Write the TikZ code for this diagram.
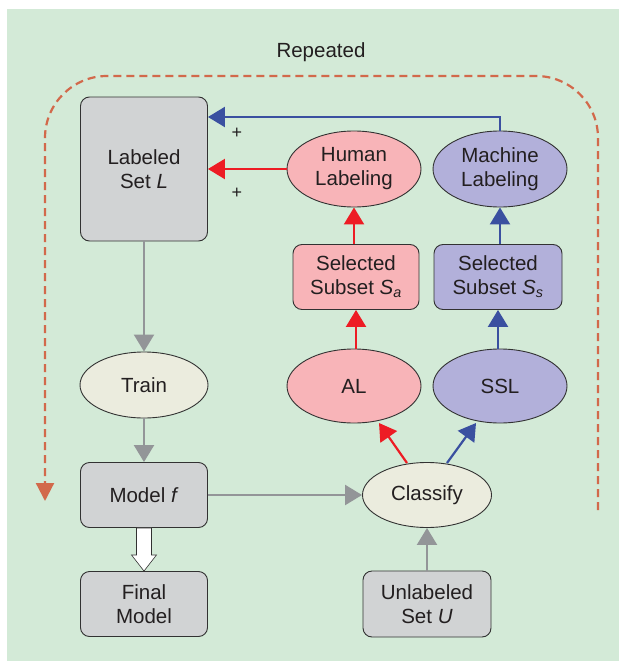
\documentclass[tikz,border=0pt]{standalone}
\usepackage{fontspec}
\setmainfont{Liberation Sans}
\usetikzlibrary{arrows.meta,shapes.geometric,calc}
\definecolor{bggreen}{RGB}{211,234,215}
\definecolor{boxgray}{RGB}{209,211,212}
\definecolor{cream}{RGB}{235,236,222}
\definecolor{pinkfill}{RGB}{248,180,184}
\definecolor{lavfill}{RGB}{178,176,218}
\definecolor{redarr}{RGB}{237,28,36}
\definecolor{bluearr}{RGB}{58,80,160}
\definecolor{grayarr}{RGB}{147,149,152}
\definecolor{dashorange}{RGB}{210,105,75}
\definecolor{txt}{RGB}{35,31,32}
\definecolor{edge}{RGB}{50,50,50}
\tikzset{
  base/.style={draw=edge, line width=0.9pt, text=txt, align=center, inner sep=0pt,
    font=\fontsize{20.5}{24}\selectfont},
  rbox/.style={base, rectangle, rounded corners=9pt, minimum width=127pt, minimum height=65pt},
  ell/.style={base, ellipse, minimum width=134pt, minimum height=76pt},
  conn/.style={line width=2.2pt, -{Triangle[length=17pt,width=20pt]}},
  redc/.style={conn, draw=redarr},
  bluec/.style={conn, draw=bluearr},
  grayc/.style={conn, draw=grayarr},
  plus/.style={text=txt, font=\fontsize{18}{20}\selectfont, inner sep=0pt}
}
\begin{document}
\begin{tikzpicture}[x=1pt,y=-1pt]
\useasboundingbox (0,0) rectangle (619,661);
\fill[white] (0,0) rectangle (619,661);
\fill[bggreen] (7,9) rectangle (619,661);

\node[text=txt, font=\fontsize{20.5}{24}\selectfont] (rep) at (321,52) {Repeated};

% nodes
\node[rbox, fill=boxgray, minimum height=144pt] (L) at (144,169) {Labeled\\Set \textit{L}};
\node[ell, fill=cream, minimum width=128pt, minimum height=66pt] (train) at (144,385) {Train};
\node[rbox, fill=boxgray] (model) at (144,495) {Model \textit{f}};
\node[rbox, fill=boxgray] (final) at (144,604) {Final\\Model};
\node[rbox, fill=boxgray, minimum width=128pt, minimum height=66pt] (U) at (427,604) {Unlabeled\\Set \textit{U}};
\node[ell, fill=cream, minimum width=129pt, minimum height=65pt] (classify) at (427,495) {Classify};
\node[ell, fill=pinkfill, minimum height=74pt] (AL) at (354,386) {AL};
\node[ell, fill=lavfill, minimum height=74pt] (SSL) at (500,386) {SSL};
\node[rbox, fill=pinkfill, minimum width=126pt] (Sa) at (356,277) {Selected\\Subset \textit{S}\textsubscript{\textit{a}}};
\node[rbox, fill=lavfill, minimum width=128pt] (Ss) at (498,277) {Selected\\Subset \textit{S}\textsubscript{\textit{s}}};
\node[ell, fill=pinkfill] (human) at (354,169) {Human\\Labeling};
\node[ell, fill=lavfill] (machine) at (500,169) {Machine\\Labeling};

% plus signs
\node[plus] (p1) at (237,133) {+};
\node[plus] (p2) at (237,193) {+};

% gray connectors
\draw[grayc] (L.south) -- (train.north);
\draw[grayc] (train.south) -- (model.north);
\draw[grayc] (model.east) -- (classify.west);
\draw[grayc] (U.north) -- (classify.south);

% white hollow arrow
\draw[draw=edge, fill=white, line width=0.6pt]
  ($(model.south)+(-7.5,0)$) -- ($(model.south)+(7.5,0)$) -- ($(model.south)+(7.5,27)$) -- ($(model.south)+(12.5,27)$)
  -- (final.north) -- ($(model.south)+(-12.5,27)$) -- ($(model.south)+(-7.5,27)$) -- cycle;

% red connectors
\coordinate (cr0) at (407,463);
\coordinate (cr1) at (379,423);
\draw[redc] (cr0) -- (cr1);
\draw[redc] (AL.north -| Sa.south) -- (Sa.south);
\draw[redc] (Sa.north -| human.south) -- (human.south);
\draw[redc] (human.west) -- (human.west -| L.east);

% blue connectors
\coordinate (cb0) at (447,463);
\coordinate (cb1) at (476,423);
\draw[bluec] (cb0) -- (cb1);
\draw[bluec] (SSL.north -| Ss.south) -- (Ss.south);
\draw[bluec] (Ss.north -| machine.south) -- (machine.south);
\coordinate (bturn) at (machine.north |- 0,117);
\draw[bluec] (machine.north) -- (bturn) -- (bturn -| L.east);

% repeated dashed loop
\coordinate (dstart) at (598,510);
\coordinate (dend) at (45,501);
\draw[dashorange, line width=2.2pt, dash pattern=on 8pt off 5pt, rounded corners=62pt,
  -{Triangle[length=18pt,width=18pt]}]
  (dstart) -- (598,76) -- (45,76) -- (dend);
\end{tikzpicture}
\end{document}
